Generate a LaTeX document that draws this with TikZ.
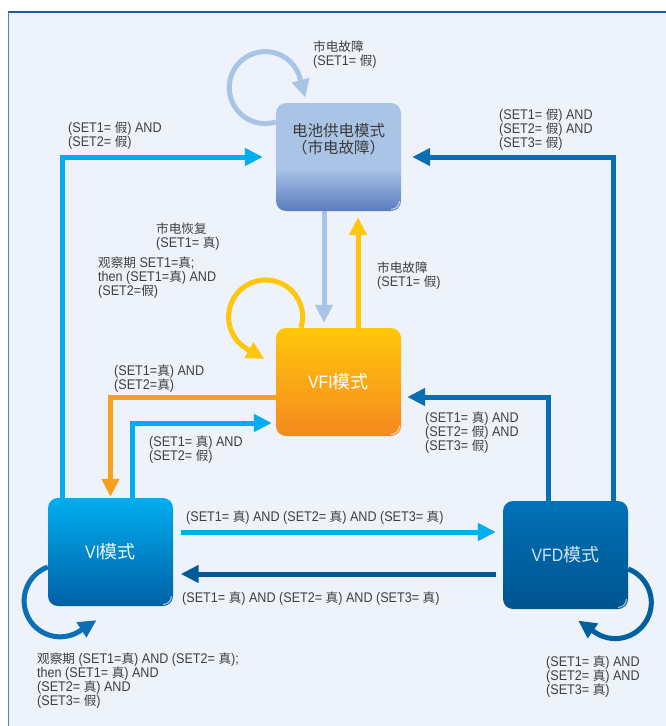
\documentclass[tikz,border=0pt]{standalone}
\usepackage{fontspec}
\setmainfont{Liberation Sans}[FakeStretch=0.9]
\newfontfamily\cjk{Noto Sans CJK SC}
\newfontfamily\cjksmall{Noto Sans CJK SC}[Scale=0.9]
\usetikzlibrary{arrows.meta}
\definecolor{bgc}{HTML}{EEF2FA}
\definecolor{topline}{HTML}{1E5AA8}
\definecolor{leftline}{HTML}{4D82C4}
\definecolor{txt}{HTML}{3F3F3F}
\definecolor{cyanc}{HTML}{00AEEF}
\definecolor{lbluec}{HTML}{A8C4E7}
\definecolor{yellowc}{HTML}{FFC60B}
\definecolor{orangec}{HTML}{F7A11A}
\definecolor{bluec}{HTML}{0A6EB4}
\definecolor{darkbluec}{HTML}{005A97}
\definecolor{viloopc}{HTML}{0B6FB5}
\definecolor{vfdloopc}{HTML}{00609D}
\definecolor{batlight}{HTML}{AAC4E6}
\definecolor{batdark}{HTML}{5B7BBE}
\definecolor{vfitop}{HTML}{FFC70A}
\definecolor{vfibot}{HTML}{F5891F}
\definecolor{vitop}{HTML}{00AEEF}
\definecolor{vibot}{HTML}{0060A6}
\definecolor{vfdtop}{HTML}{0071B6}
\definecolor{vfdbot}{HTML}{00548F}
\definecolor{battxt}{HTML}{3A3A3A}
\definecolor{vitxt}{HTML}{EEF7FD}
\definecolor{vfdtxt}{HTML}{D2E4F3}
\pgfdeclareverticalshading{batshade}{100bp}{color(0bp)=(batdark); color(25bp)=(batdark); color(45bp)=(batlight); color(100bp)=(batlight)}
\pgfdeclarelayer{back}
\pgfdeclarelayer{bg}
\pgfsetlayers{back,bg,main}
\newcommand\zh[1]{{\cjksmall #1}}
\tikzset{
  conn/.style={line width=5pt, -{Triangle[length=18pt,width=17pt]}},
  lbl/.style={inner sep=0pt, anchor=north west, align=left, text=txt, font={\fontsize{14}{14}\selectfont\lineskiplimit=-20pt\lineskip=0pt}},
  mode/.style={rounded corners=10pt, minimum width=125pt, minimum height=108pt, inner sep=0pt, align=center},
  modetext/.style={font=\cjk\fontsize{18}{19}\selectfont},
  gloss/.style={draw=white, line width=0.9pt, opacity=0.75}
}
\begin{document}
\begin{tikzpicture}[x=1pt,y=-1pt]
\useasboundingbox (0,0) rectangle (666,726);
\begin{pgfonlayer}{back}
\fill[white] (0,0) rectangle (666,726);
\fill[bgc] (8,12) rectangle (666,726);
\draw[line width=1.6pt, topline] (8,12.2) -- (666,12.2);
\draw[line width=1.4pt, leftline] (8.7,12) -- (8.7,726);
\end{pgfonlayer}

% mode boxes
\node[mode, shading=batshade] (bat) at (338.5,157) {};
\node[mode, top color=vfitop, bottom color=vfibot, text=white, modetext] (vfi) at (338.5,382) {\fontspec{Liberation Sans}[FakeStretch=0.88]VFI\cjk 模式};
\node[mode, top color=vitop, bottom color=vibot, text=vitxt, modetext] (vi) at (110.5,552) {\fontspec{Liberation Sans}[FakeStretch=0.88]VI\cjk 模式};
\node[mode, top color=vfdtop, bottom color=vfdbot, text=vfdtxt, modetext] (vfd) at (565.5,555) {\fontspec{Liberation Sans}[FakeStretch=0.88]VFD\cjk 模式};
\node[align=center, text=battxt, font=\cjk\fontsize{15.5}{17.5}\selectfont, inner sep=0pt] (battext) at ([yshift=18pt]bat.center) {电池供电模式\\（市电故障）};
% glossy corner highlights
\foreach \b in {bat,vfi,vi,vfd}{
  \path[gloss] ([xshift=-1.8pt,yshift=10pt]\b.south east) arc[start angle=0, end angle=90, radius=8.2];
}

\begin{pgfonlayer}{bg}
% straight / orthogonal connectors
\draw[conn, cyanc] ([xshift=-48pt]vi.north) |- ([xshift=-13pt]bat.west);
\draw[conn, bluec] ([xshift=47.5pt]vfd.north) |- ([xshift=11pt]bat.east);
\draw[conn, lbluec] ([xshift=-14.5pt]bat.south) -- ([xshift=-14.5pt,yshift=5pt]vfi.north);
\draw[conn, yellowc] ([xshift=19.5pt]vfi.north) -- ([xshift=19.5pt,yshift=-6pt]bat.south);
\draw[conn, orangec] ([yshift=-15pt]vfi.west) -| ([yshift=1pt]vi.north);
\draw[conn, cyanc] ([xshift=21.5pt]vi.north) |- ([xshift=-4pt,yshift=-41pt]vfi.west);
\draw[conn, bluec] ([xshift=-17.5pt]vfd.north) |- ([xshift=6pt,yshift=-15pt]vfi.east);
\coordinate (a1) at ([xshift=7.5pt,yshift=20pt]vi.east);
\draw[conn, cyanc] (a1) -- ([xshift=-7pt]vfd.west |- a1);
\coordinate (a2) at ([xshift=-7pt,yshift=-19pt]vfd.west);
\draw[conn, darkbluec] (a2) -- ([xshift=7.5pt]vi.east |- a2);
% self loops
\draw[conn, lbluec] ([yshift=35pt]bat.west) arc[start angle=73, end angle=345, radius=36] -- ++(5.2,19.3);
\draw[conn, yellowc] ([xshift=-37.5pt]vfi.north) arc[start angle=17, end angle=-240, radius=37] -- ++(17.3,10);
\draw[conn, viloopc] ([yshift=-15pt]vi.west) arc[start angle=250, end angle=57, radius=36] -- ++(16.8,-10.9);
\draw[conn, vfdloopc] ([yshift=-14pt]vfd.east) arc[start angle=291, end angle=485, radius=36] -- ++(-16.4,-11.5);
\end{pgfonlayer}

% labels
\node[lbl] (l1) at (313,41) {\zh{市电故障}\\(SET1= \zh{假})};
\node[lbl] (l2) at (68,122) {(SET1= \zh{假}) AND\\(SET2= \zh{假})};
\node[lbl] (l3) at (499,109) {(SET1= \zh{假}) AND\\(SET2= \zh{假}) AND\\(SET3= \zh{假})};
\node[lbl] (l4) at (156,223) {\zh{市电恢复}\\(SET1= \zh{真})};
\node[lbl] (l5) at (98,257) {\zh{观察期} SET1=\zh{真};\\then (SET1=\zh{真}) AND\\(SET2=\zh{假})};
\node[lbl] (l6) at (377,262) {\zh{市电故障}\\(SET1= \zh{假})};
\node[lbl] (l7) at (114,365) {(SET1=\zh{真}) AND\\(SET2=\zh{真})};
\node[lbl] (l8) at (425,412) {(SET1= \zh{真}) AND\\(SET2= \zh{假}) AND\\(SET3= \zh{假})};
\node[lbl] (l9) at (149,436) {(SET1= \zh{真}) AND\\(SET2= \zh{假})};
\node[lbl] (l10) at (186,511) {(SET1= \zh{真}) AND (SET2= \zh{真}) AND (SET3= \zh{真})};
\node[lbl] (l11) at (182,592) {(SET1= \zh{真}) AND (SET2= \zh{真}) AND (SET3= \zh{真})};
\node[lbl] (l12) at (37,653) {\zh{观察期} (SET1=\zh{真}) AND (SET2= \zh{真});\\then (SET1= \zh{真}) AND\\(SET2= \zh{真}) AND\\(SET3= \zh{假})};
\node[lbl] (l13) at (546,656) {(SET1= \zh{真}) AND\\(SET2= \zh{真}) AND\\(SET3= \zh{真})};
\end{tikzpicture}
\end{document}
